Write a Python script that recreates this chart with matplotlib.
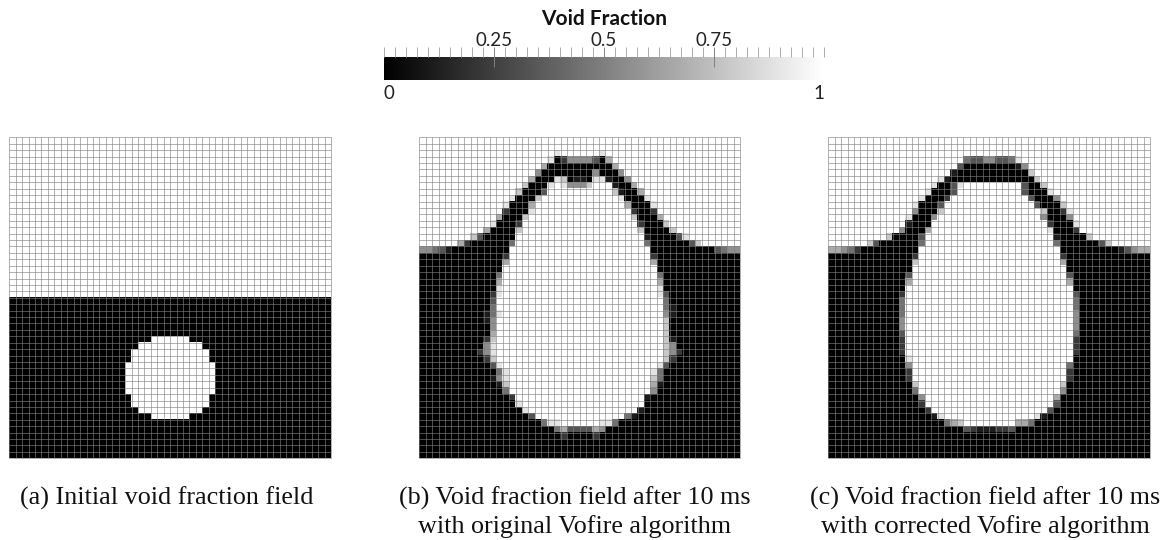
import numpy as np
import matplotlib
matplotlib.use("Agg")
import matplotlib.pyplot as plt
from matplotlib.cm import ScalarMappable
from matplotlib.colors import Normalize

W, H = 1171, 540

WHITE = "9999999999"
BLACK = "0000000000"

# цифры 0..9 - уровень серого в ячейке, 0 чёрный, 9 белый
field_a = [" ".join([WHITE] * 5)] * 25 + [
    " ".join([BLACK] * 5),
    " ".join([BLACK] * 5),
    " ".join([BLACK] * 5),
    " ".join([BLACK] * 5),
    " ".join([BLACK] * 5),
    " ".join([BLACK] * 5),
    "0000000000 0000000000 0099999900 0000000000 0000000000",
    "0000000000 0000000000 9999999999 0000000000 0000000000",
    "0000000000 0000000009 9999999999 9000000000 0000000000",
    "0000000000 0000000009 9999999999 9000000000 0000000000",
    "0000000000 0000000099 9999999999 9900000000 0000000000",
    "0000000000 0000000099 9999999999 9900000000 0000000000",
    "0000000000 0000000099 9999999999 9900000000 0000000000",
    "0000000000 0000000099 9999999999 9900000000 0000000000",
    "0000000000 0000000099 9999999999 9900000000 0000000000",
    "0000000000 0000000009 9999999999 9000000000 0000000000",
    "0000000000 0000000009 9999999999 9000000000 0000000000",
    "0000000000 0000000000 9999999999 0000000000 0000000000",
    "0000000000 0000000000 0099999900 0000000000 0000000000",
    " ".join([BLACK] * 5),
    " ".join([BLACK] * 5),
    " ".join([BLACK] * 5),
    " ".join([BLACK] * 5),
    " ".join([BLACK] * 5),
    " ".join([BLACK] * 5),
]

field_b = [
    "9999999999 9999999999 9999999999 9999999999 9999999999",
    "9999999999 9999999999 9999999999 9999999999 9999999999",
    "9999999999 9999999999 9899999989 9999999999 9999999999",
    "9999999999 9999999999 8025555306 9999999999 9999999999",
    "9999999999 9999999996 0000000000 6999999999 9999999999",
    "9999999999 9999999950 0000000500 0599999999 9999999999",
    "9999999999 9999999600 0870110881 0059999999 9999999999",
    "9999999999 9999997000 8985557999 1006999999 9999999999",
    "9999999999 9999970003 9999999999 7100699999 9999999999",
    "9999999999 9999800079 9999999999 9800089999 9999999999",
    "9999999999 9998000699 9999999999 9960008999 9999999999",
    "9999999999 9992000899 9999999999 9992002999 9999999999",
    "9999999999 9960007999 9999999999 9997000699 9999999999",
    "9999999999 9800029999 9999999999 9999200079 9999999999",
    "9999999999 6000079999 9999999999 9999700007 9999999999",
    "9999999973 0000099999 9999999999 9999910000 3899999999",
    "9999996200 0000499999 9999999999 9999940000 0037999999",
    "5543100000 0000999999 9999999999 9999990000 0000003455",
    "0000000000 0002999999 9999999999 9999992000 0000000000",
    "0000000000 0006999999 9999999999 9999996000 0000000000",
    "0000000000 0009999999 9999999999 9999999000 0000000000",
    "0000000000 0049999999 9999999999 9999999400 0000000000",
    "0000000000 0069999999 9999999999 9999999600 0000000000",
    "0000000000 0089999999 9999999999 9999999800 0000000000",
    "0000000000 0289999999 9999999999 9999999830 0000000000",
    "0000000000 0399999999 9999999999 9999999940 0000000000",
    "0000000000 0499999999 9999999999 9999999941 0000000000",
    "0000000000 1489999999 9999999999 9999999951 0000000000",
    "0000000000 1599999999 9999999999 9999999970 0000000000",
    "0000000000 0599999999 9999999999 9999999970 0000000000",
    "0000000000 0699999999 9999999999 9999999970 0000000000",
    "0000000000 2799999999 9999999999 9999999971 0000000000",
    "0000000000 5899999999 9999999999 9999999975 0000000000",
    "0000000002 5899999999 9999999999 9999999975 2000000000",
    "0000000000 2799999999 9999999999 9999999972 0000000000",
    "0000000000 0389999999 9999999999 9999999830 0000000000",
    "0000000000 0048999999 9999999999 9999998400 0000000000",
    "0000000000 0158999999 9999999999 9999997400 0000000000",
    "0000000000 0017999999 9999999999 9999996100 0000000000",
    "0000000000 0004999999 9999999999 9999995000 0000000000",
    "0000000000 0000299999 9999999999 9999910000 0000000000",
    "0000000000 0000089999 9999999999 9999900000 0000000000",
    "0000000000 0000008999 9999999999 9999100000 0000000000",
    "0000000000 0000000399 9999999999 9941000000 0000000000",
    "0000000000 0000000004 8899999988 4000000000 0000000000",
    "0000000000 0000000000 0463333650 0000000000 0000000000",
    "0000000000 0000000000 0020000200 0000000000 0000000000",
    "0000000000 0000000000 0000000000 0000000000 0000000000",
    "0000000000 0000000000 0000000000 0000000000 0000000000",
    "0000000000 0000000000 0000000000 0000000000 0000000000",
]

field_c = [
    "9999999999 9999999999 9999999999 9999999999 9999999999",
    "9999999999 9999999999 9999999999 9999999999 9999999999",
    "9999999999 9999999999 9999999999 9999999999 9999999999",
    "9999999999 9999999999 9433553348 9999999999 9999999999",
    "9999999999 9999999999 3000000001 5999999999 9999999999",
    "9999999999 9999999991 0000000000 0799999999 9999999999",
    "9999999999 9999999810 0000000000 0079999999 9999999999",
    "9999999999 9999998003 8999999999 3007999999 9999999999",
    "9999999999 9999980003 9999999999 3000899999 9999999999",
    "9999999999 9999800029 9999999999 9300059999 9999999999",
    "9999999999 9998000399 9999999999 9930007999 9999999999",
    "9999999999 9995000799 9999999999 9997002899 9999999999",
    "9999999999 9980005999 9999999999 9995000599 9999999999",
    "9999999999 9910009999 9999999999 9999200089 9999999999",
    "9999999999 9500069999 9999999999 9999800029 9999999999",
    "9999999997 0000399999 9999999999 9999910000 7999999999",
    "9999997300 0000499999 9999999999 9999940000 0037999999",
    "6654200000 0000999999 9999999999 9999990000 0000013566",
    "0000000000 0002999999 9999999999 9999992000 0000000000",
    "0000000000 0007999999 9999999999 9999996000 0000000000",
    "0000000000 0009999999 9999999999 9999999000 0000000000",
    "0000000000 0039999999 9999999999 9999999300 0000000000",
    "0000000000 0069999999 9999999999 9999999600 0000000000",
    "0000000000 0099999999 9999999999 9999999900 0000000000",
    "0000000000 0299999999 9999999999 9999999930 0000000000",
    "0000000000 0499999999 9999999999 9999999940 0000000000",
    "0000000000 0499999999 9999999999 9999999940 0000000000",
    "0000000000 0499999999 9999999999 9999999950 0000000000",
    "0000000000 0599999999 9999999999 9999999950 0000000000",
    "0000000000 0599999999 9999999999 9999999950 0000000000",
    "0000000000 0399999999 9999999999 9999999940 0000000000",
    "0000000000 0299999999 9999999999 9999999920 0000000000",
    "0000000000 0299999999 9999999999 9999999920 0000000000",
    "0000000000 0299999999 9999999999 9999999920 0000000000",
    "0000000000 0089999999 9999999999 9999999900 0000000000",
    "0000000000 0059999999 9999999999 9999999400 0000000000",
    "0000000000 0029999999 9999999999 9999999200 0000000000",
    "0000000000 0029999999 9999999999 9999999200 0000000000",
    "0000000000 0007999999 9999999999 9999997000 0000000000",
    "0000000000 0004999999 9999999999 9999995000 0000000000",
    "0000000000 0000599999 9999999999 9999960000 0000000000",
    "0000000000 0000299999 9999999999 9999930000 0000000000",
    "0000000000 0000029999 9999999999 9999300000 0000000000",
    "0000000000 0000001899 9999999999 9981000000 0000000000",
    "0000000000 0000000046 7999999996 6400000000 0000000000",
    "0000000000 0000000000 0321112230 0000000000 0000000000",
    "0000000000 0000000000 0000000000 0000000000 0000000000",
    "0000000000 0000000000 0000000000 0000000000 0000000000",
    "0000000000 0000000000 0000000000 0000000000 0000000000",
    "0000000000 0000000000 0000000000 0000000000 0000000000",
]

captions = [
    "(a) Initial void fraction field",
    "(b) Void fraction field after 10 ms\nwith original Vofire algorithm",
    "(c) Void fraction field after 10 ms\nwith corrected Vofire algorithm",
]
bar_title = "Void Fraction"
bar_major = [0.25, 0.5, 0.75]
bar_major_labels = ["0.25", "0.5", "0.75"]


def to_grid(rows):
    """Строки с цифрами -> массив значений 0..1"""
    return np.array([[int(ch) / 9 for ch in row.replace(" ", "")] for row in rows])


def px_axes(fig, left, top, right, bottom):
    return fig.add_axes([left / W, 1 - bottom / H, (right - left) / W, (bottom - top) / H])


fig = plt.figure(figsize=(W / 100, H / 100), dpi=100)

# три поля с сеткой
panels = [(9.3, 331.0), (419.3, 740.3), (828.3, 1150.0)]
for (left, right), rows in zip(panels, [field_a, field_b, field_c]):
    ax = px_axes(fig, left, 137.3, right, 458.3)
    grid = to_grid(rows)
    ny, nx = grid.shape
    ax.imshow(grid, cmap="gray", vmin=0, vmax=1, extent=(0, nx, ny, 0),
              aspect="auto", interpolation="nearest")
    ax.vlines(np.arange(nx + 1), 0, ny, color="#808080", alpha=0.65, lw=0.66, clip_on=False)
    ax.hlines(np.arange(ny + 1), 0, nx, color="#808080", alpha=0.65, lw=0.66, clip_on=False)
    ax.set_xlim(0, nx)
    ax.set_ylim(ny, 0)
    ax.axis("off")

# шкала
cax = px_axes(fig, 384, 57.3, 824, 80)
sm = ScalarMappable(norm=Normalize(0, 1), cmap="gray")
cbar = fig.colorbar(sm, cax=cax, orientation="horizontal")
cbar.outline.set_visible(False)
cax.xaxis.set_ticks_position("top")
cax.xaxis.set_label_position("top")
cax.set_xticks(bar_major)
cax.set_xticklabels(bar_major_labels, fontfamily="Lato", fontweight="normal", fontsize=13.5, color="#222222")
cax.set_xticks(np.arange(0, 41) / 40, minor=True)
cax.tick_params(axis="x", which="major", direction="inout", length=15, width=0.7,
                color="#808080", pad=-1.5)
cax.tick_params(axis="x", which="minor", direction="out", length=7.5, width=0.7, color="#aaaaaa")
trans = cax.get_xaxis_transform()
cax.text(0, -0.2, "0", transform=trans, ha="left", va="top",
         fontfamily="Lato", fontweight="normal", fontsize=13.5, color="#222222")
cax.text(1, -0.2, "1", transform=trans, ha="right", va="top",
         fontfamily="Lato", fontweight="normal", fontsize=13.5, color="#222222")
fig.text(604.5 / W, 1 - 19 / H, bar_title, ha="center", va="center",
         fontfamily="Lato", fontweight="bold", fontsize=15, color="#111111")

# подписи
centers = [167, 575, 985]
for cx, text in zip(centers, captions):
    fig.text(cx / W, 1 - 486.5 / H, text, ha="center", va="top", fontfamily="Liberation Serif",
             fontsize=18.8, color="#111111", linespacing=1.27)

fig.savefig("out.png", dpi=100)
